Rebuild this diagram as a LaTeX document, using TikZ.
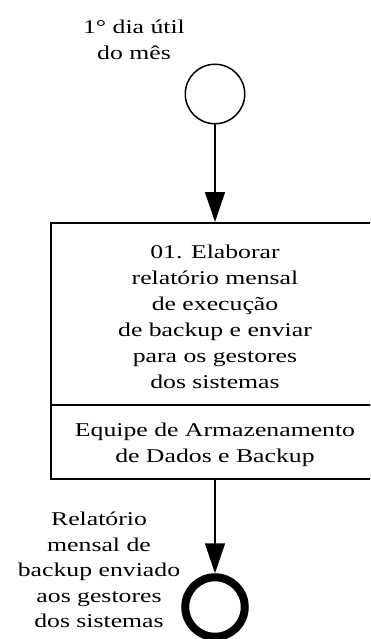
\documentclass[tikz,border=0pt]{standalone}
\usepackage{fontspec}
\setmainfont{Liberation Serif}[FakeStretch=1.32]
\usetikzlibrary{arrows.meta,positioning}

\begin{document}
\begin{tikzpicture}[x=1pt, y=-1pt,
            box/.style={rectangle, draw, line width=2pt, minimum width=328pt, text centered, align=center, font=\fontsize{19.5}{26}\selectfont},
            event/.style={circle, draw, inner sep=0pt, minimum size=59.5pt},
            lbl/.style={align=center, font=\fontsize{19.5}{25.5}\selectfont},
            arrow/.style={-{Triangle[width=20pt,length=30pt]}, line width=1.5pt}
        ]
            \useasboundingbox (0,0) rectangle (370,639);
            \clip (0,0) rectangle (370,639);

            \node[event, line width=1.5pt] (start) at (215,94) {};
            \node[box, minimum height=182pt] (task) at (215,314) {\strut 01. Elaborar\\relatório mensal\\de execução\\de backup e enviar\\para os gestores\\dos sistemas};
            \node[box, minimum height=74pt] (role) at (215,442) {\strut Equipe de Armazenamento\\de Dados e Backup};
            \node[event, line width=8pt] (finish) at (215,607) {};

            \node[lbl] (startlabel) at (134,40) {1° dia útil\\do mês};
            \node[lbl] (finishlabel) at (99,570) {Relatório\\mensal de\\backup enviado\\aos gestores\\dos sistemas};

            \draw[arrow] (start) -- (task);
            \draw[arrow] (role) -- (finish);
        \end{tikzpicture}
\end{document}
